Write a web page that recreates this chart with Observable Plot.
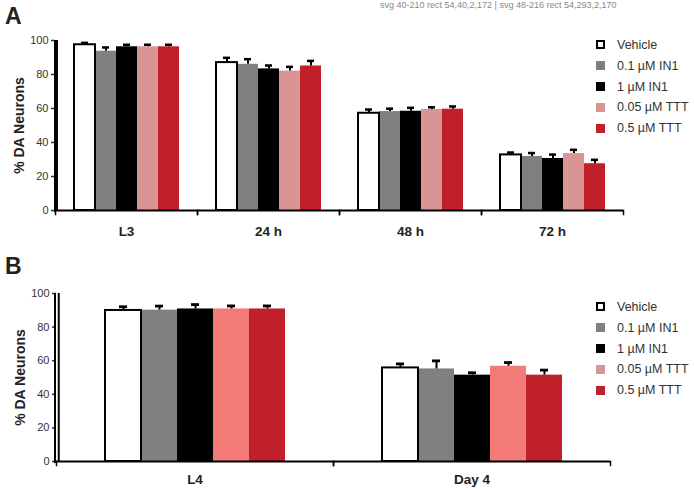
<!DOCTYPE html>
<html><head><meta charset="utf-8">
<script src="https://cdn.jsdelivr.net/npm/d3@7"></script>
<script src="https://cdn.jsdelivr.net/npm/@observablehq/plot@0.6"></script>
<style>
body{margin:0;background:#fff;font-family:"Liberation Sans",Arial,sans-serif;}
#wrap{position:relative;width:694px;height:490px;overflow:hidden}
.panel{position:absolute;left:0;width:694px;height:245px}
.letter{position:absolute;left:5px;font-weight:bold;font-size:23px;color:#222;line-height:1}
.legend{position:absolute;left:596px;font-size:12.5px;color:#333}
.legend .row{height:20.8px;display:flex;align-items:center;white-space:nowrap}
.sw{width:9px;height:9px;margin-right:12px;box-sizing:border-box;flex:none}
.yline{position:absolute;width:2px;background:#000;z-index:10}
#dbg{position:absolute;left:380px;top:0;font-size:9px;color:#888;z-index:20}
svg [aria-label="y-axis label"], svg [aria-label="y-axis label"] text{font-weight:bold !important;font-size:14px !important;fill:#222}
svg [aria-label="fx-axis tick label"], svg [aria-label="fx-axis tick label"] text{font-weight:bold !important;font-size:13.5px !important;fill:#222}
</style></head>
<body>
<div id="wrap">
  <div class="letter" style="top:5px">A</div>
  <div class="letter" style="top:255px">B</div>
  <div class="panel" id="pa" style="top:0"></div>
  <div class="panel" id="pb" style="top:245px"></div>
  <div class="legend" id="la" style="top:34.6px"></div>
  <div class="legend" id="lb" style="top:296.6px"></div>
  <div id="dbg"></div>
</div>
<script>
// ---- data ----
const seriesNames = ["Vehicle", "0.1 \u00b5M IN1", "1 \u00b5M IN1", "0.05 \u00b5M TTT", "0.5 \u00b5M TTT"];
const colorsA = ["#ffffff", "#808080", "#000000", "#d99594", "#c0202a"];
const colorsB = ["#ffffff", "#808080", "#000000", "#f27b78", "#c0202a"];
const legendColors = ["#ffffff", "#808080", "#000000", "#d99594", "#c0202a"];

const timesA = ["L3", "24 h", "48 h", "72 h"];
const vehicleA  = [97.5, 87, 57.2, 32.7];
const in1LowA   = [93.7, 86, 58.2, 31.8];
const in1HighA  = [96.3, 83.3, 58.4, 30.6];
const tttLowA   = [96.3, 82, 59.4, 33.5];
const tttHighA  = [96.3, 85, 59.6, 27.5];
const vehicleErrA  = [1.1, 2.8, 2.2, 1.4];
const in1LowErrA   = [2.2, 3.0, 1.7, 2.0];
const in1HighErrA  = [1.2, 2.0, 2.0, 2.3];
const tttLowErrA   = [1.2, 2.5, 1.3, 2.2];
const tttHighErrA  = [1.2, 3.0, 1.6, 2.3];

const timesB = ["L4", "Day 4"];
const vehicleB  = [89.9, 55.7];
const in1LowB   = [90.1, 55.1];
const in1HighB  = [90.8, 51.4];
const tttLowB   = [90.8, 56.7];
const tttHighB  = [90.8, 51.4];
const vehicleErrB  = [2.2, 2.4];
const in1LowErrB   = [2.4, 4.8];
const in1HighErrB  = [2.6, 1.4];
const tttLowErrB   = [1.8, 2.2];
const tttHighErrB  = [1.8, 3.0];

const yTicks = [0, 20, 40, 60, 80, 100];

function rows(times, means, errs, colors) {
  const out = [];
  times.forEach((t, i) => seriesNames.forEach((s, j) => {
    out.push({time: t, series: s, value: means[j][i], err: errs[j][i], color: colors[j]});
  }));
  return out;
}

const dataA = rows(timesA, [vehicleA, in1LowA, in1HighA, tttLowA, tttHighA],
  [vehicleErrA, in1LowErrA, in1HighErrA, tttLowErrA, tttHighErrA], colorsA);
const dataB = rows(timesB, [vehicleB, in1LowB, in1HighB, tttLowB, tttHighB],
  [vehicleErrB, in1LowErrB, in1HighErrB, tttLowErrB, tttHighErrB], colorsB);

const dbg = [];

function panel(container, data, times, o) {
  const innerH = o.height - o.marginTop - o.marginBottom;
  const facetW = (694 - 55 - o.marginRight) / times.length;
  const bw = facetW / (seriesNames.length + 2 * o.paddingOuter);
  const edgeOffset = o.paddingOuter * bw + bw / 2;   // from first bar centre to facet's left edge
  const svg = Plot.plot({
    width: 694,
    height: o.height,
    marginLeft: 55,
    marginRight: o.marginRight,
    marginTop: o.marginTop,
    marginBottom: o.marginBottom,
    style: {fontFamily: "'Liberation Sans', Arial, sans-serif", fontSize: "11px", color: "#000", background: "transparent"},
    fx: {domain: times, padding: 0, label: null},
    x: {domain: seriesNames, paddingInner: 0, paddingOuter: o.paddingOuter, axis: null},
    y: {domain: [0, 100]},
    marks: [
      Plot.barY(data.filter(d => d.series !== "Vehicle"), {fx: "time", x: "series", y: "value", fill: "color"}),
      Plot.barY(data.filter(d => d.series === "Vehicle"), {fx: "time", x: "series", y: "value", fill: "white", stroke: "black", strokeWidth: 2}),
      Plot.ruleX(data, {fx: "time", x: "series", y1: "value", y2: d => d.value + d.err, stroke: "black", strokeWidth: 2}),
      Plot.tickY(data, {fx: "time", x: "series", y: d => d.value + d.err, stroke: "black", strokeWidth: o.capW, insetLeft: o.capInset, insetRight: o.capInset}),
      Plot.ruleY([0], {stroke: "black", strokeWidth: 2.2}),
      Plot.frame({anchor: "left", insetTop: innerH, insetBottom: -4, stroke: "black", strokeWidth: 1.5}),
      Plot.frame({anchor: "right", insetTop: innerH, insetBottom: -4, stroke: "black", strokeWidth: 1.5}),
      // y-axis line: a rule in the first facet, shifted from the first bar's centre to the facet edge
      Plot.ruleX([{time: times[0], series: seriesNames[0], lo: 0, hi: 100}],
        {fx: "time", x: "series", y1: "lo", y2: "hi", dx: -edgeOffset, stroke: "black", strokeWidth: 2}),
      Plot.axisY({ticks: yTicks, tickSize: 4, tickPadding: 3, strokeWidth: 1.5, label: "% DA Neurons", labelAnchor: "center", labelArrow: "none", labelOffset: 41, color: "#333"}),
      Plot.axisFx({anchor: "bottom", tickSize: 0, tickPadding: o.fxPad, label: null})
    ]
  });
  container.append(svg);
  let top = NaN, bottom = NaN;
  try {
    const r = svg.scale("y").range;
    top = Math.min(r[0], r[1]);
    bottom = Math.max(r[0], r[1]);
  } catch (e) { dbg.push("err:" + e.message); }
  if (!isFinite(top) || !isFinite(bottom)) { top = o.marginTop; bottom = o.height - o.marginBottom; }
  const ln = document.createElement("div");
  ln.className = "yline";
  ln.style.left = "54px";
  ln.style.top = top + "px";
  ln.style.height = (bottom - top + 2) + "px";
  container.append(ln);
  const rc = ln.getBoundingClientRect();
  dbg.push(svg.tagName + " " + top + "-" + bottom + " rect " + [rc.x, rc.y, rc.width, rc.height].map(Math.round).join(","));
}

panel(document.getElementById("pa"), dataA, timesA, {height: 245, marginTop: 40, marginBottom: 35, marginRight: 71, paddingOuter: 0.8, capInset: 7, capW: 2.5, fxPad: 16});
panel(document.getElementById("pb"), dataB, timesB, {height: 245, marginTop: 48, marginBottom: 29, marginRight: 84, paddingOuter: 1.25, capInset: 14, capW: 2.8, fxPad: 13});
document.getElementById("dbg").textContent = dbg.join(" | ");

function legend(el) {
  seriesNames.forEach((s, j) => {
    const r = document.createElement("div");
    r.className = "row";
    const sw = document.createElement("span");
    sw.className = "sw";
    sw.style.background = legendColors[j];
    if (j === 0) sw.style.border = "2px solid #000";
    r.append(sw, document.createTextNode(s));
    el.append(r);
  });
}
legend(document.getElementById("la"));
legend(document.getElementById("lb"));
</script>
</body></html>
